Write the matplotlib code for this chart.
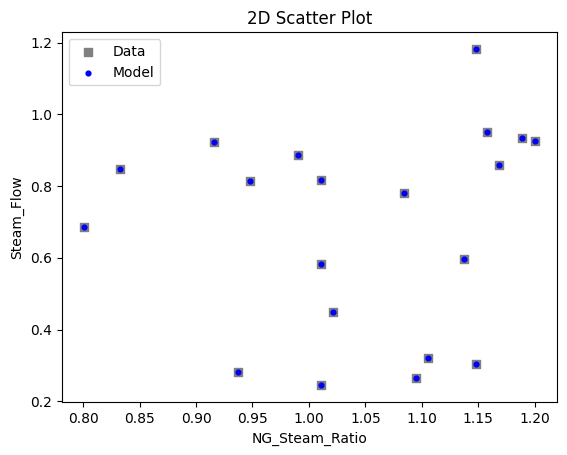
import matplotlib
matplotlib.use("Agg")
import matplotlib.pyplot as plt

# values
ng_steam_ratio = [0.801, 0.833, 0.916, 0.937, 0.948, 0.990, 1.011, 1.011, 1.011, 1.021,
                  1.084, 1.095, 1.105, 1.137, 1.148, 1.148, 1.158, 1.168, 1.189, 1.200]
steam_flow = [0.685, 0.847, 0.923, 0.283, 0.813, 0.886, 0.816, 0.582, 0.244, 0.448,
              0.782, 0.266, 0.322, 0.598, 1.182, 0.305, 0.950, 0.858, 0.934, 0.925]
model_flow = list(steam_flow)

fig = plt.figure(figsize=(5.67, 4.55), dpi=100)
ax = fig.add_axes([0.1088, 0.1158, 0.9829 - 0.1088, 0.929 - 0.1158])

ax.scatter(ng_steam_ratio, steam_flow, marker='s', color='gray', label='Data')
ax.scatter(ng_steam_ratio, model_flow, marker='o', s=12, color='blue', label='Model')

ax.set_title("2D Scatter Plot")
ax.set_xlabel("NG_Steam_Ratio")
ax.set_ylabel("Steam_Flow")
ax.legend(loc='upper left')

fig.savefig("out.png", dpi=100)
